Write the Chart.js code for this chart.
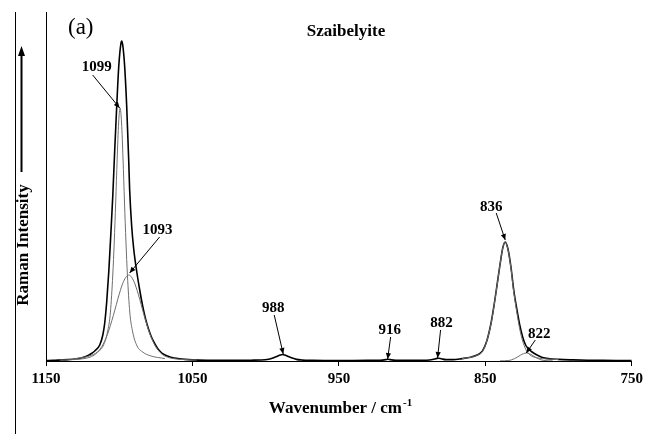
<!DOCTYPE html>
<html><head><meta charset="utf-8">
<script src="https://cdn.jsdelivr.net/npm/chart.js@4.4.1/dist/chart.umd.min.js"></script>
<style>html,body{margin:0;padding:0;background:#fff;} canvas{display:block;}</style>
</head><body>
<canvas id="c" width="647" height="434"></canvas>
<script>
// ---- data (wavenumber / cm-1, intensity in arbitrary units) ----
const xTicks = [1150, 1050, 950, 850, 750];

const envX = [1150,1145,1140,1135,1130,1126,1122,1119,1116.7,1113.3,1111.2,1109.9,1108.5,1107.1,1105.8,1104.4,1103.1,1101.7,1100.3,1098.9,1098.3,1097.6,1096.3,1094.9,1093.5,1092.9,1091.5,1090.1,1088.1,1086,1084,1082,1080,1078,1076,1074,1072,1070,1067,1064,1060,1055,1050,1040,1030,1020,1010,1003,998,995,992,990,988.5,987,985,982,979,975,968,960,950,940,930,922,918,916.5,915,911,900,890,886,883,882,880,877,872,866,860,856,852,849,846,844,842,840,838,836.4,834.5,832.5,830.5,828.5,826.5,824.5,822.5,820.5,818.5,816.5,814,811,807,800,790,780,770,760,750];
const envY = [0.5,0.6,1,1.4,2,3,5,7.5,10,16,26,38,60,90,125,165,210,255,295,317,320,316,295,255,200,172,135,112,90,71,55,42,32,24,18,13,9.5,7,5,3.5,2.5,1.6,1.1,0.7,0.6,0.6,0.8,1,1.8,3,4.8,6,6.5,6,4.8,3,1.6,0.9,0.6,0.5,0.5,0.5,0.6,0.8,1.4,1.8,1.4,0.8,0.6,0.8,1.5,2.6,2.8,2.2,1.4,1.4,2.4,3.8,5.7,9.9,20,38.5,56,75.8,96,113.6,119,111.8,94,70,52,36,24,16,12,9.5,7.5,5.5,3.6,2.4,1.6,1.1,0.8,0.6,0.5,0.5];

const c1099X = [1130,1120,1115,1111,1108,1106,1104.4,1103.4,1102.4,1101.4,1100.4,1099.4,1098.4,1097.4,1096.4,1095.4,1094.4,1092.8,1090.8,1087.8,1083.8,1078.8,1068.8];
const c1099Y = [2.4,5.2,8.8,15,29,49,86,119,159,202,238,253,238,202,159,119,86,49,29,15,8.8,5.2,2.4];

const c1093X = [1140,1130,1125,1120,1116,1112,1108,1104,1100,1097,1093.5,1090,1087,1083,1079,1075,1071,1067,1062,1057,1047];
const c1093Y = [1,1.5,2.2,3.8,7.1,14.2,26.8,45.6,66.8,79.7,86,79.7,66.8,45.6,26.8,14.2,7.1,3.8,2.2,1.5,1];

const c836X = [866,860,856,852,849,846,844,842,840,838,836.4,834.5,832.5,830.5,828.5,826.5,824.5,822.5,820.5,818.5,816.5,814,811,807,800];
const c836Y = [2.4,3.7,5.5,9.5,20,38,55.5,75.5,96,113.5,119,111.5,93,68,49,32,20,12,7.5,5,3.8,3,2.4,1.9,1.4];

const c822X = [840,834,832,830,828,826,824,822,820,818,816,814,812,810,804];
const c822Y = [0.1,0.5,1.2,2.4,4,5.8,7.3,8,7.3,5.8,4,2.4,1.2,0.5,0.1];

// peak annotations
const peakLabels = ['1099', '1093', '988', '916', '882', '836', '822'];
const peakWn     = [1099.7, 1092.9, 988, 916.7, 882.6, 836.4, 822];
const peakInt    = [253, 88, 7, 2, 3, 121, 8];

// ---- layout (pixel offsets of label/arrow start relative to the arrow tip) ----
const labelOffset = [[-23,-41],[28,-43],[-10,-46],[2,-29],[4,-35],[-14,-33],[13,-19]];
const arrowStart  = [[-27,-33],[30,-36],[-9,-39],[3,-22],[3,-28],[-9,-27],[9,-13]];

const SERIF = "'Liberation Serif','Times New Roman',serif";
const pts = (xs, ys) => xs.map((x, i) => ({x: x, y: ys[i]}));

function arrow(ctx, x0, y0, x1, y1) {
  ctx.beginPath(); ctx.moveTo(x0, y0); ctx.lineTo(x1, y1); ctx.stroke();
  const a = Math.atan2(y1 - y0, x1 - x0), L = 6, W = 2.6;
  ctx.beginPath();
  ctx.moveTo(x1, y1);
  ctx.lineTo(x1 - L*Math.cos(a) + W*Math.sin(a), y1 - L*Math.sin(a) - W*Math.cos(a));
  ctx.lineTo(x1 - L*Math.cos(a) - W*Math.sin(a), y1 - L*Math.sin(a) + W*Math.cos(a));
  ctx.closePath(); ctx.fill();
}

const annot = {
  id: 'annot',
  afterDraw(chart) {
    const ctx = chart.ctx, xs = chart.scales.x, ys = chart.scales.y, ca = chart.chartArea;
    ctx.save();
    ctx.fillStyle = '#000'; ctx.strokeStyle = '#000';
    ctx.lineWidth = 1;
    ctx.beginPath(); ctx.moveTo(15.5, ca.top); ctx.lineTo(15.5, chart.height); ctx.stroke();
    ctx.font = 'bold 15px ' + SERIF;
    ctx.textAlign = 'center'; ctx.textBaseline = 'middle';
    for (let i = 0; i < peakLabels.length; i++) {
      const tx = xs.getPixelForValue(peakWn[i]), ty = ys.getPixelForValue(peakInt[i]);
      ctx.fillText(peakLabels[i], tx + labelOffset[i][0], ty + labelOffset[i][1]);
      ctx.lineWidth = 1;
      arrow(ctx, tx + arrowStart[i][0], ty + arrowStart[i][1], tx, ty);
    }
    ctx.font = '23px ' + SERIF; ctx.textAlign = 'left'; ctx.textBaseline = 'alphabetic';
    ctx.fillText('(a)', 68, 34);
    ctx.font = 'bold 17px ' + SERIF; ctx.textAlign = 'center';
    ctx.fillText('Szaibelyite', 346, 36);
    ctx.font = 'bold 17px ' + SERIF; ctx.textAlign = 'left';
    const main = 'Wavenumber / cm';
    const w = ctx.measureText(main).width;
    ctx.font = 'bold 11px ' + SERIF;
    const w2 = ctx.measureText('-1').width;
    const x0 = 340 - (w + w2) / 2;
    ctx.font = 'bold 17px ' + SERIF;
    ctx.fillText(main, x0, 413);
    ctx.font = 'bold 11px ' + SERIF;
    ctx.fillText('-1', x0 + w + 1, 406);
    ctx.save();
    ctx.translate(28, 245); ctx.rotate(-Math.PI/2);
    ctx.font = 'bold 17px ' + SERIF; ctx.textAlign = 'center'; ctx.textBaseline = 'alphabetic';
    ctx.fillText('Raman Intensity', 0, 0);
    ctx.restore();
    ctx.lineWidth = 2;
    ctx.beginPath(); ctx.moveTo(21.5, 172); ctx.lineTo(21.5, 54); ctx.stroke();
    ctx.beginPath(); ctx.moveTo(21.5, 46); ctx.lineTo(18, 56); ctx.lineTo(25, 56); ctx.closePath(); ctx.fill();
    ctx.restore();
  }
};

const grey = '#6e6e6e';
new Chart(document.getElementById('c'), {
  type: 'line',
  data: {
    datasets: [
      {data: pts(c1099X, c1099Y), borderColor: grey, borderWidth: 1, pointRadius: 0, cubicInterpolationMode: 'monotone', fill: false},
      {data: pts(c1093X, c1093Y), borderColor: grey, borderWidth: 1, pointRadius: 0, cubicInterpolationMode: 'monotone', fill: false},
      {data: pts(c836X, c836Y), borderColor: grey, borderWidth: 1, pointRadius: 0, cubicInterpolationMode: 'monotone', fill: false},
      {data: pts(c822X, c822Y), borderColor: grey, borderWidth: 1, pointRadius: 0, cubicInterpolationMode: 'monotone', fill: false},
      {data: pts(envX, envY), borderColor: '#000', borderWidth: 1.6, pointRadius: 0, cubicInterpolationMode: 'monotone', fill: false}
    ]
  },
  options: {
    responsive: false, animation: false, devicePixelRatio: 1,
    layout: {padding: {left: 0, right: 13, top: 12, bottom: 0}},
    plugins: {legend: {display: false}, tooltip: {enabled: false}},
    scales: {
      x: {
        type: 'linear', reverse: true, min: 750, max: 1150,
        afterBuildTicks: (s) => { s.ticks = xTicks.map(v => ({value: v})); },
        ticks: {color: '#000', font: {family: SERIF, size: 15, weight: 'bold'}, padding: 4, maxRotation: 0,
                callback: (v) => String(v)},
        grid: {display: true, drawOnChartArea: false, drawTicks: true, tickLength: 5, color: '#000'},
        border: {display: true, color: '#000', width: 1},
        afterFit: (s) => { s.height = 73; }
      },
      y: {
        min: 0, max: 349,
        ticks: {display: false},
        grid: {display: false},
        border: {display: true, color: '#000', width: 1},
        afterFit: (s) => { s.width = 46; }
      }
    }
  },
  plugins: [annot]
});
</script>
</body></html>
